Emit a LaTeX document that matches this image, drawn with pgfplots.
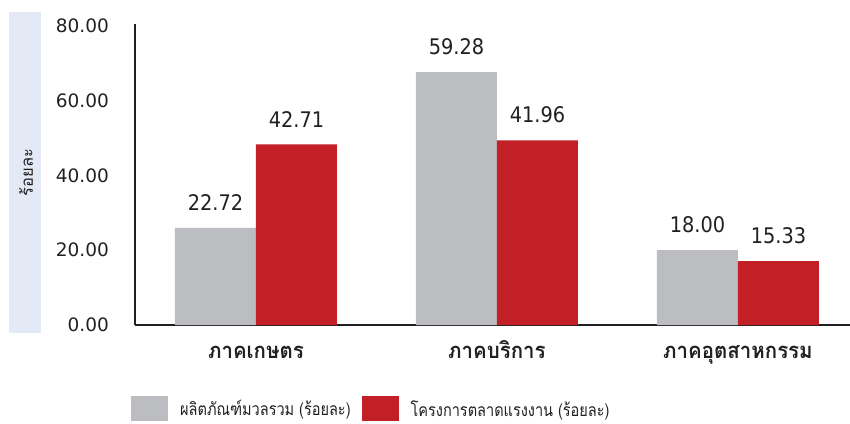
\documentclass[border=0pt]{standalone}
\usepackage{fontspec}
\setmainfont{DejaVu Sans}
\newfontfamily\thaiy[Script=Thai]{Loma}
\newfontfamily\thaicat[Script=Thai,FakeStretch=0.93]{Loma}
\newfontfamily\thaileg[Script=Thai,FakeStretch=0.83]{Loma}
\newfontfamily\numfont[FakeStretch=0.9]{DejaVu Sans}
\usepackage{pgfplots}
\usepackage{pgfplotstable}
\pgfplotsset{compat=1.18}
\definecolor{bargray}{HTML}{BCBDC1}
\definecolor{barred}{HTML}{C21F26}
\definecolor{axisdark}{HTML}{231F20}
\definecolor{bandblue}{HTML}{E3EAF6}

\pgfplotstableread{
x h lab
0 26.0 22.72
1 67.6 59.28
2 20.0 18.00
}\gdptab
\pgfplotstableread{
x h lab
0 48.3 42.71
1 49.4 41.96
2 17.1 15.33
}\labtab

\begin{document}
\begin{tikzpicture}
\path[use as bounding box] (0pt,0pt) rectangle (850pt,423pt);
\fill[bandblue] (9pt,90pt) rectangle (41pt,411pt);
\node[rotate=90,inner sep=0pt,text=axisdark,font=\thaiy\fontsize{16.5}{19}\selectfont] at (26pt,250.5pt) {ร้อยละ};
\begin{axis}[
  at={(135pt,98pt)}, anchor=south west,
  scale only axis, width=715pt, height=301pt,
  xmin=-0.502, xmax=2.465, ymin=0, ymax=80.5,
  clip=false,
  axis x line=bottom, axis y line=left,
  axis line style={-, line width=2.5pt, color=axisdark},
  major tick length=0pt,
  ytick={0,20,40,60,80},
  yticklabel style={/pgf/number format/fixed, /pgf/number format/fixed zerofill, /pgf/number format/precision=2, /pgf/number format/assume math mode=true},
  yticklabel style={font=\fontsize{18.5}{20}\selectfont, text=axisdark, inner sep=0pt, xshift=-26pt},
  xtick={0,1,2},
  xticklabels={ภาคเกษตร, ภาคบริการ, ภาคอุตสาหกรรม},
  xticklabel style={font=\thaicat\bfseries\fontsize{22}{24}\selectfont, text=axisdark, inner sep=0pt, anchor=base, yshift=-33pt},
  ybar=0pt, bar width=81pt,
  nodes near coords, point meta=explicit symbolic,
  nodes near coords style={font=\numfont\fontsize{21.5}{24}\selectfont, anchor=south, inner sep=0pt, yshift=17pt, text=axisdark},
  legend style={at={(axis description cs:-0.0056,-0.279)}, anchor=west, draw=none, fill=none, inner sep=0pt,
    font=\thaileg\fontsize{17.5}{19}\selectfont, text=axisdark},
  legend columns=2, legend cell align=left,
  /tikz/every odd column/.append style={column sep=10pt},
  /tikz/every even column/.append style={column sep=9pt},
  legend image code/.code={\fill[#1,draw=none] (0pt,-12.5pt) rectangle (37pt,12.5pt);},
]
\addplot[fill=bargray, draw=none] table[x=x, y=h, meta=lab] {\gdptab};
\addplot[fill=barred, draw=none] table[x=x, y=h, meta=lab] {\labtab};
\legend{ผลิตภัณฑ์มวลรวม (ร้อยละ), โครงการตลาดแรงงาน (ร้อยละ)}
\end{axis}
\end{tikzpicture}
\end{document}
